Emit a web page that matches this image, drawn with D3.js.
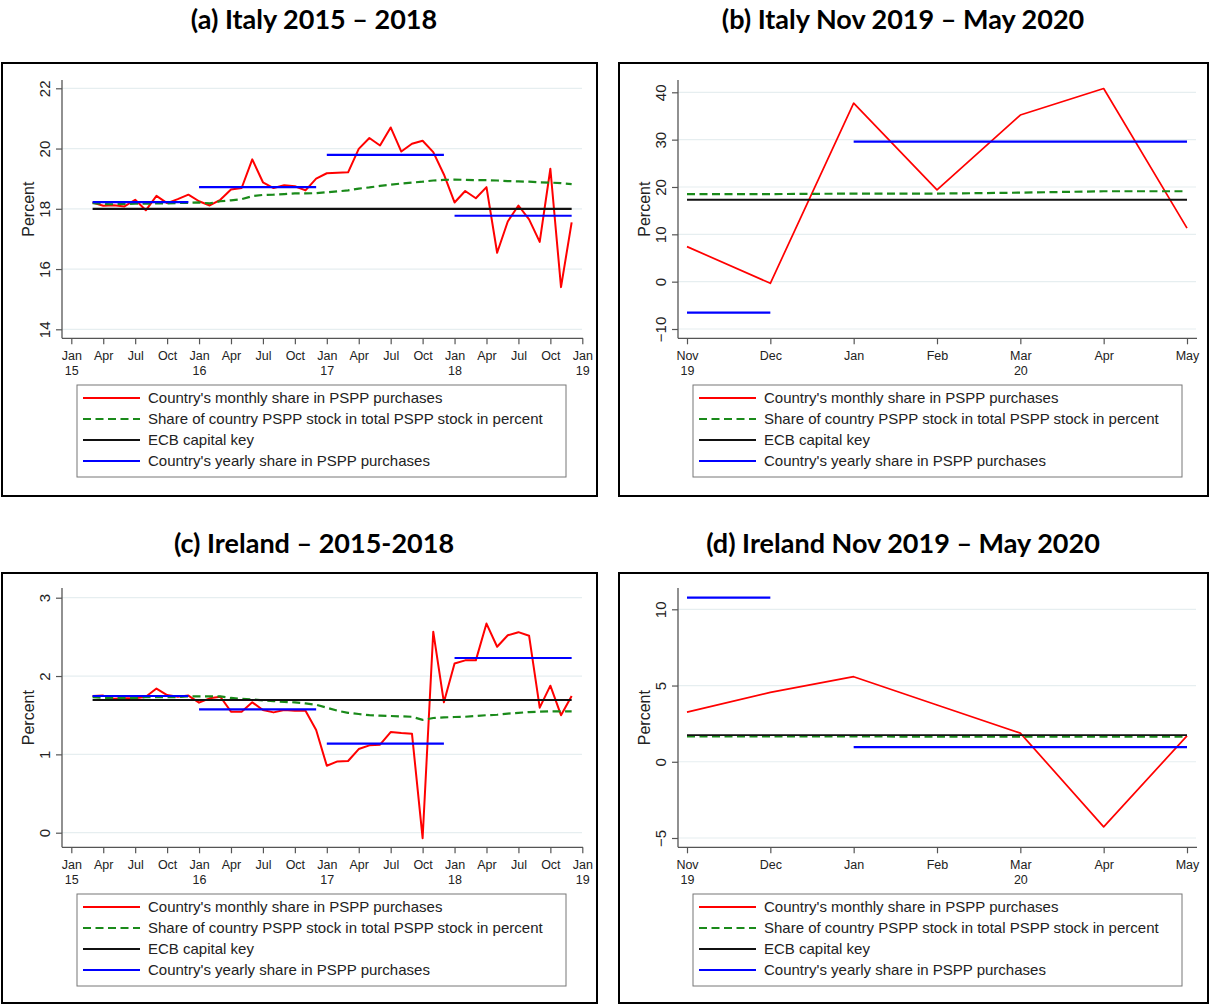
<!DOCTYPE html>
<html><head><meta charset="utf-8">
<script src="https://cdn.jsdelivr.net/npm/d3@7"></script>
<style>body{margin:0;background:#fff}svg{display:block}</style>
</head><body><svg id="c" width="1213" height="1005"></svg>
<script>
// ================= DATA =================
// Long panels: months since Jan 2015 (Mar 2015 .. Dec 2018)
const longMonthIdx = d3.range(2, 48);
const longTickMonths = ["Jan","Apr","Jul","Oct","Jan","Apr","Jul","Oct","Jan","Apr","Jul","Oct","Jan","Apr","Jul","Oct","Jan"];
const longTickYears  = ["15","","","","16","","","","17","","","","18","","","","19"];
const longYears = [2015, 2016, 2017, 2018];

const itMonthly = [18.21,18.10,18.12,18.08,18.30,17.95,18.43,18.19,18.32,18.47,
  18.25,18.11,18.30,18.64,18.69,19.64,18.88,18.69,18.78,18.75,18.61,19.00,
  19.18,19.20,19.21,19.99,20.35,20.10,20.70,19.90,20.16,20.26,19.88,19.14,
  18.21,18.59,18.35,18.72,16.54,17.58,18.11,17.65,16.90,19.33,15.40,17.55];
const itStock = [18.19,18.16,18.15,18.16,18.17,18.17,18.18,18.18,18.19,18.20,
  18.21,18.18,18.25,18.28,18.32,18.42,18.46,18.47,18.49,18.51,18.51,18.52,
  18.55,18.58,18.61,18.67,18.71,18.76,18.80,18.84,18.87,18.90,18.94,18.96,
  18.97,18.96,18.95,18.95,18.94,18.92,18.91,18.90,18.88,18.87,18.85,18.82];
const itKey = 18.0;
const itYearly = [18.22, 18.72, 19.79, 17.77];
const itTicks = [14, 16, 18, 20, 22];

const ieMonthly = [1.745,1.75,1.71,1.715,1.715,1.736,1.84,1.757,1.736,1.75,
  1.66,1.715,1.736,1.545,1.545,1.664,1.566,1.536,1.566,1.557,1.557,1.31,
  0.855,0.91,0.915,1.068,1.115,1.123,1.285,1.272,1.264,-0.07,2.566,1.664,
  2.16,2.20,2.20,2.67,2.374,2.52,2.56,2.515,1.596,1.877,1.50,1.745];
const ieStock = [1.73,1.72,1.72,1.72,1.72,1.73,1.73,1.73,1.73,1.74,
  1.74,1.74,1.74,1.72,1.71,1.70,1.69,1.68,1.67,1.664,1.65,1.634,
  1.596,1.557,1.53,1.515,1.50,1.494,1.49,1.485,1.48,1.44,1.464,1.472,
  1.477,1.48,1.49,1.50,1.506,1.52,1.53,1.54,1.545,1.55,1.55,1.55];
const ieKey = 1.694;
const ieYearly = [1.745, 1.574, 1.136, 2.23];
const ieTicks = [0, 1, 2, 3];

// Short panels: Nov 2019 .. May 2020
const shortMonths = ["Nov","Dec","Jan","Feb","Mar","Apr","May"];
const shortTickYears = ["19","","","","20","",""];
const shortYearOf = [2019, 2019, 2020, 2020, 2020, 2020, 2020];
const shortYears = [2019, 2020];

const itShortMonthly = [7.4, -0.35, 37.7, 19.4, 35.2, 40.8, 11.3];
const itShortStock = [18.5, 18.5, 18.6, 18.6, 18.8, 19.1, 19.1];
const itShortKey = 17.3;
const itShortYearly = [-6.55, 29.6];
const itShortTicks = [-10, 0, 10, 20, 30, 40];

const ieShortMonthly = [3.26, 4.55, 5.58, 3.72, 1.88, -4.27, 1.70];
const ieShortStock = [1.66, 1.66, 1.66, 1.65, 1.65, 1.64, 1.64];
const ieShortKey = 1.75;
const ieShortYearly = [10.77, 0.96];
const ieShortTicks = [-5, 0, 5, 10];

const titles = ["(a) Italy 2015 \u2013 2018", "(b) Italy Nov 2019 \u2013 May 2020",
                "(c) Ireland \u2013 2015-2018", "(d) Ireland Nov 2019 \u2013 May 2020"];
const legendLabels = ["Country's monthly share in PSPP purchases",
  "Share of country PSPP stock in total PSPP stock in percent",
  "ECB capital key",
  "Country's yearly share in PSPP purchases"];

// ================= DRAW =================
const svg = d3.select("#c");
const FONT = "'Liberation Sans', Arial, sans-serif";
const RED = "#ff0000", GREEN = "#1a8a1a", BLUE = "#0000ff", BLACK = "#111";
const AXIS = "#555", GRID = "#e6eef0";

function panel(o) {
  const g = svg.append("g");
  // frame
  g.append("rect").attr("x", o.frame[0]).attr("y", o.frame[1]).attr("width", o.frame[2]).attr("height", o.frame[3])
    .attr("fill", "none").attr("stroke", "#000").attr("stroke-width", 2);
  // title
  svg.append("text").attr("x", o.titleX).attr("y", o.titleY).attr("text-anchor", "middle")
    .attr("font-family", "Lato, 'Open Sans', sans-serif").attr("font-weight", 700).attr("font-size", 27)
    .attr("fill", "#000").text(o.title);

  const x = d3.scaleLinear().domain(o.xDomain).range(o.xRange);
  const y = d3.scaleLinear().domain(o.yDomain).range(o.yRange);
  const yAxisX = o.yAxisX, xAxisY = o.xAxisY;

  // gridlines
  g.selectAll("line.grid").data(o.yTicks).join("line")
    .attr("x1", yAxisX).attr("x2", o.gridEnd).attr("y1", d => y(d)).attr("y2", d => y(d))
    .attr("stroke", GRID).attr("stroke-width", 1.2);

  // y axis
  const ya = g.append("g").attr("transform", `translate(${yAxisX},0)`)
    .call(d3.axisLeft(y).tickValues(o.yTicks).tickSize(6).tickSizeOuter(0).tickFormat(d3.format("d")));
  ya.select(".domain").attr("d", `M0,${o.yTop}V${xAxisY}`).attr("stroke", AXIS).attr("stroke-width", 1.3);
  ya.selectAll(".tick line").attr("stroke", AXIS).attr("stroke-width", 1.2);
  ya.selectAll(".tick text").attr("font-family", FONT).attr("font-size", 15).attr("fill", "#222")
    .attr("text-anchor", "middle").attr("x", null).attr("dy", null)
    .attr("transform", "translate(-17,0) rotate(-90)").attr("dy", "0.35em");

  // x axis
  const xa = g.append("g").attr("transform", `translate(0,${xAxisY})`)
    .call(d3.axisBottom(x).tickValues(o.xTicks).tickSize(6).tickSizeOuter(0).tickFormat(""));
  xa.select(".domain").attr("d", `M${yAxisX},0H${o.gridEnd + 1}`).attr("stroke", AXIS).attr("stroke-width", 1.3);
  xa.selectAll(".tick line").attr("stroke", AXIS).attr("stroke-width", 1.2);
  xa.selectAll(".tick").each(function(d, i) {
    const t = d3.select(this);
    t.append("text").attr("y", 21.7).attr("text-anchor", "middle").attr("font-family", FONT)
      .attr("font-size", 12.5).attr("fill", "#222").text(o.xLabels[i]);
    if (o.xYears[i]) t.append("text").attr("y", 36.7).attr("text-anchor", "middle").attr("font-family", FONT)
      .attr("font-size", 12.5).attr("fill", "#222").text(o.xYears[i]);
  });

  // y title
  g.append("text").attr("transform", `translate(${yAxisX - 34},${(o.yTop + xAxisY) / 2}) rotate(-90)`)
    .attr("text-anchor", "middle").attr("dy", "0.35em").attr("font-family", FONT).attr("font-size", 16)
    .attr("fill", "#222").text("Percent");

  const line = d3.line().x(d => x(d[0])).y(d => y(d[1]));
  const m = o.months;
  // monthly (red)
  g.append("path").datum(m.map((k, i) => [k, o.monthly[i]])).attr("d", line)
    .attr("fill", "none").attr("stroke", RED).attr("stroke-width", o.redW).attr("stroke-linejoin", "round");
  // stock (green dashed)
  g.append("path").datum(m.map((k, i) => [k, o.stock[i]])).attr("d", line)
    .attr("fill", "none").attr("stroke", GREEN).attr("stroke-width", 2.2).attr("stroke-dasharray", "8,4.5");
  // capital key (black)
  g.append("path").datum([[m[0], o.key], [m[m.length - 1], o.key]]).attr("d", line)
    .attr("fill", "none").attr("stroke", BLACK).attr("stroke-width", o.blackW);
  // yearly (blue)
  o.years.forEach((yr, j) => {
    const ks = m.filter((k, i) => o.yearOf(k, i) === yr);
    g.append("path").datum([[ks[0], o.yearly[j]], [ks[ks.length - 1], o.yearly[j]]]).attr("d", line)
      .attr("fill", "none").attr("stroke", BLUE).attr("stroke-width", 2.2);
  });

  // legend
  const L = o.legend;
  g.append("rect").attr("x", L.x).attr("y", L.y).attr("width", L.w).attr("height", L.h)
    .attr("fill", "#fff").attr("stroke", "#777").attr("stroke-width", 1);
  const styles = [[RED, null, 2], [GREEN, "8,4.5", 2.2], [BLACK, null, 2], [BLUE, null, 2]];
  legendLabels.forEach((lab, i) => {
    const ly = L.y + 13 + i * 21;
    g.append("line").attr("x1", L.x + 6).attr("x2", L.x + 63).attr("y1", ly).attr("y2", ly)
      .attr("stroke", styles[i][0]).attr("stroke-width", styles[i][2]).attr("stroke-dasharray", styles[i][1]);
    g.append("text").attr("x", L.x + 71).attr("y", ly).attr("dy", "0.35em").attr("font-family", FONT)
      .attr("font-size", 15).attr("fill", "#222").text(lab);
  });
}

const longYearOf = k => 2015 + Math.floor(k / 12);
const longTickIdx = d3.range(0, 49, 3);

function longPanel(top, title, monthly, stock, key, yearly, ticks, yTickPos, yDomain) {
  return {
    frame: [2, top, 595, top === 63 ? 433 : 430], title, titleX: 314, titleY: top - 34,
    xDomain: [0, 48], xRange: [71.3, 582.3], yAxisX: 62, gridEnd: 582,
    xTicks: longTickIdx, xLabels: longTickMonths, xYears: longTickYears,
    yDomain, yRange: yTickPos, yTicks: ticks,
    months: longMonthIdx, monthly, stock, key, yearly, years: longYears,
    yearOf: (k) => longYearOf(k), redW: 2, blackW: 2.2
  };
}

const pa = longPanel(63, titles[0], itMonthly, itStock, itKey, itYearly, itTicks, [329.3, 88.3], [14, 22]);
pa.xAxisY = 338.3; pa.yTop = 80; pa.legend = {x: 77, y: 385, w: 489, h: 92};
panel(pa);

const pc = longPanel(573, titles[2], ieMonthly, ieStock, ieKey, ieYearly, ieTicks, [832.7, 597.7], [0, 3]);
pc.xAxisY = 847.3; pc.yTop = 588; pc.titleY = 553; pc.legend = {x: 77, y: 894, w: 489, h: 92};
panel(pc);

function shortPanel(top, title, monthly, stock, key, yearly, ticks, yTickPos, yDomain) {
  return {
    frame: [619, top, 589, top === 63 ? 433 : 430], title, titleX: 903, titleY: top - 34,
    xDomain: [0, 6], xRange: [687, 1187], yAxisX: 678, gridEnd: 1196,
    xTicks: d3.range(0, 7), xLabels: shortMonths, xYears: shortTickYears,
    yDomain, yRange: yTickPos, yTicks: ticks,
    months: d3.range(0, 7), monthly, stock, key, yearly, years: shortYears,
    yearOf: (k) => shortYearOf[k], redW: 1.7, blackW: 1.8
  };
}

const pb = shortPanel(63, titles[1], itShortMonthly, itShortStock, itShortKey, itShortYearly, itShortTicks, [329, 92.3], [-10, 40]);
pb.xAxisY = 338.3; pb.yTop = 80; pb.legend = {x: 693, y: 385, w: 489, h: 92};
panel(pb);

const pd = shortPanel(573, titles[3], ieShortMonthly, ieShortStock, ieShortKey, ieShortYearly, ieShortTicks, [838, 609.3], [-5, 10]);
pd.xAxisY = 847.3; pd.yTop = 588; pd.titleY = 553; pd.legend = {x: 693, y: 894, w: 489, h: 92};
panel(pd);
</script></body></html>
